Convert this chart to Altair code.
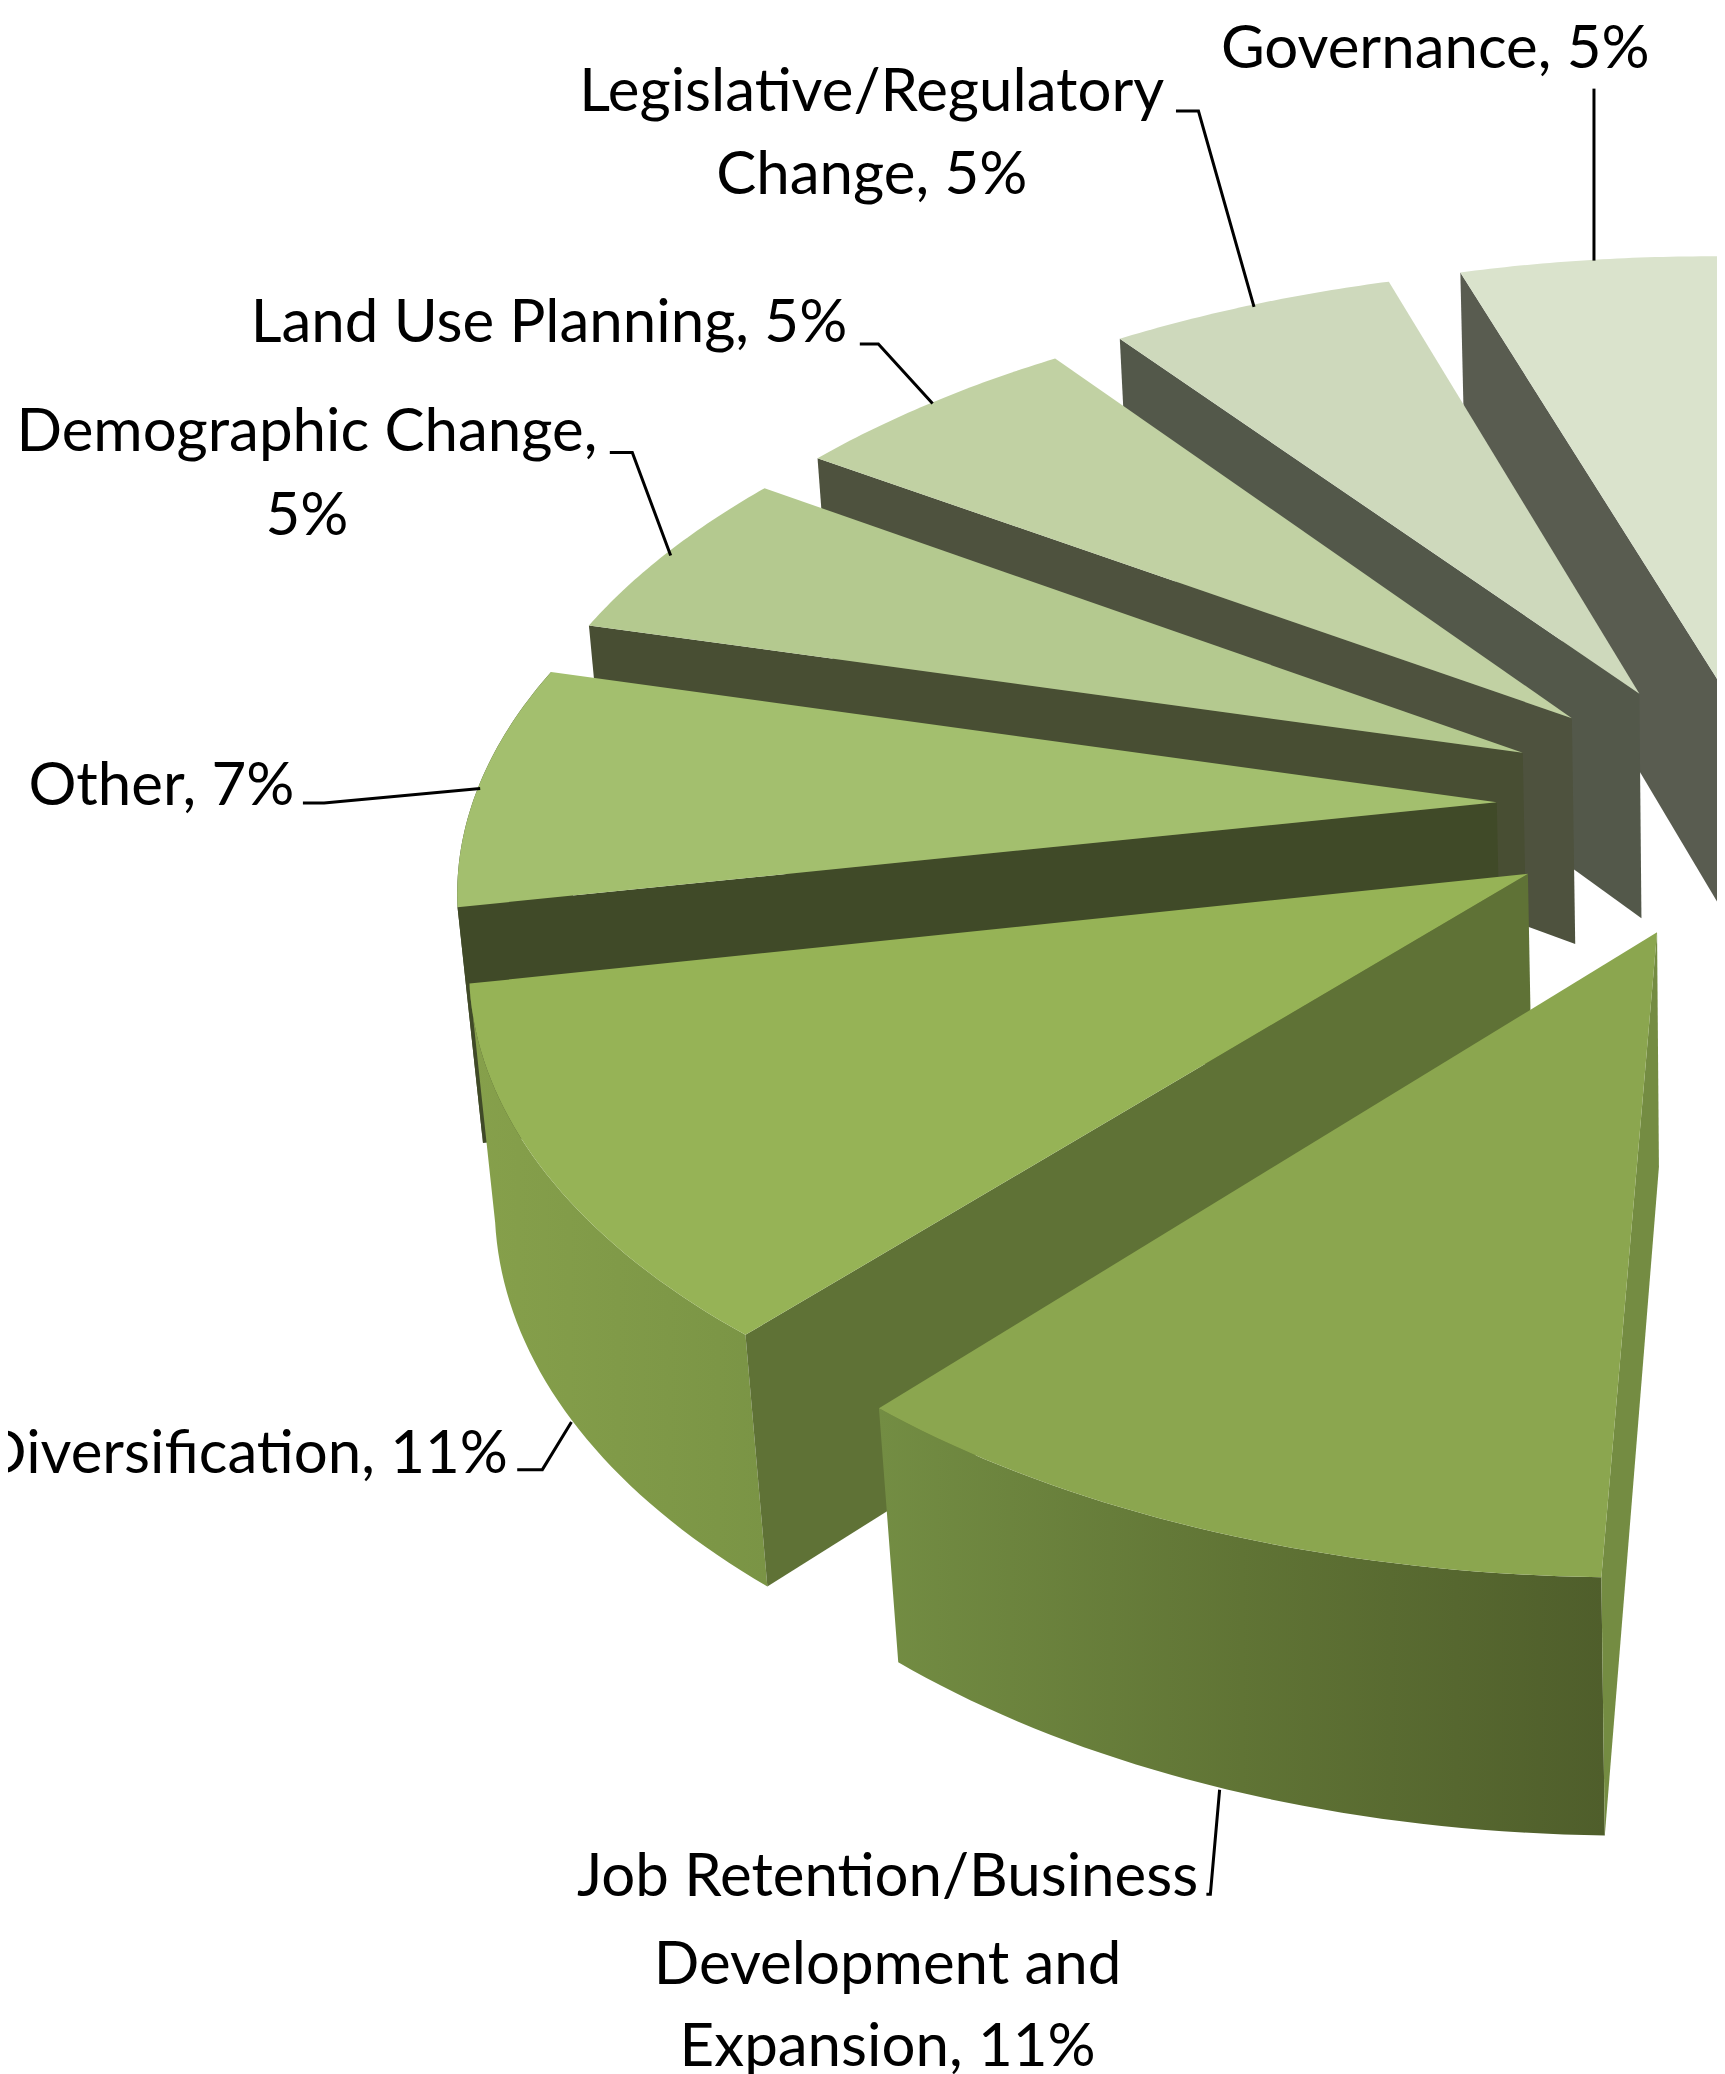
import altair as alt, numpy as np, pandas as pd

# Slices in drawing-angle order, starting at the 90-degree position
categories = ["Job Retention/Business Development and Expansion", "Diversification", "Other",
              "Demographic Change", "Land Use Planning", "Legislative/Regulatory Change", "Governance"]
shares = [10.69, 10.62, 7.31, 5.33, 5.37, 5.28, 5.45]   # percent (labels round them)
top_colors = ["#8ba64f", "#96b356", "#a3bf6e", "#b4c98f", "#c1d1a3", "#ced9bc", "#dae3cc"]
wall_colors = ["#748c42", "#5f7236", "#404a28", "#484e33", "#4e523e", "#53584a", "#595c50"]
outer_gradients = {
    0: [(0, "#738d43"), (.5, "#607435"), (1, "#4f5e2b")],
    1: [(0, "#86a04b"), (1, "#7a9445")],
    2: [(0, "#404a28"), (1, "#404a28")],
}

# 3-D pie camera
CX, CY, A, B = 1752.15, 806.5, 1010.1, 516.0
K, SH, TW, Q = 0.1392, -33.91, 18.46, -0.0045
PHI0, EXPLODE, DEPTH, PERSP = 89.94, 0.2525, 233.5, 0.0193

cum = np.concatenate([[0], np.cumsum(shares)]) * 3.6

def proj(i, f, r, z):
    s0, s1 = np.radians(PHI0 + cum[i]), np.radians(PHI0 + cum[i + 1])
    pm = (s0 + s1) / 2
    ph = s0 + (s1 - s0) * f
    U = EXPLODE * np.cos(pm) + r * np.cos(ph)
    V = EXPLODE * np.sin(pm) + r * np.sin(ph)
    W = 1 - K * V - Q * U + PERSP * z
    return CX + (A * U + SH * V) / W, CY + (B * V + TW * U + DEPTH * z) / W

X = alt.Scale(domain=[8, 1717])
Y = alt.Scale(domain=[2074, 8])
ex = alt.X("x:Q", scale=X, axis=None)
ey = alt.Y("y:Q", scale=Y, axis=None)

def poly(pts, fill):
    df = pd.DataFrame(pts, columns=["x", "y"])
    df["i"] = range(len(df))
    return alt.Chart(df).mark_line(fill=fill, strokeWidth=0, interpolate="linear-closed", clip=True).encode(
        x=ex, y=ey, order="i:Q")

def grad(c):
    return alt.Gradient(gradient="linear", x1=0, x2=1, y1=0, y2=0,
                        stops=[alt.GradientStop(color=col, offset=o) for o, col in c])

layers = []
for i in range(len(shares) - 1, -1, -1):
    fs = np.linspace(0, 1, 40)
    arc = [proj(i, f, 1, 0) for f in fs]
    arcb = [proj(i, f, 1, 1) for f in fs]
    ap, apb = proj(i, 0, 0, 0), proj(i, 0, 0, 1)
    if i in outer_gradients:
        layers.append(poly(arc + arcb[::-1], grad(outer_gradients[i])))
    layers.append(poly([ap, arc[0], arcb[0], apb], wall_colors[i]))
    layers.append(poly([ap] + arc, top_colors[i]))

S = 1.3228
label_lines = ["Governance, 5%", "Legislative/Regulatory", "Change, 5%", "Land Use Planning, 5%", "Demographic Change,", "5%",
               "Other, 7%", "Diversification, 11%", "Job Retention/Business", "Development and", "Expansion, 11%"]
label_x = [1085, 659, 659, 415, 232, 232, 122, 384, 671, 671, 671]
label_y = [38, 70, 133, 245, 327, 391, 595, 1100, 1420, 1486, 1548]
label_align = ["center"] * 7 + ["right"] + ["center"] * 3
for t, x, y, al in zip(label_lines, label_x, label_y, label_align):
    d = pd.DataFrame({"x": [x * S], "y": [y * S], "t": [t]})
    layers.append(alt.Chart(d).mark_text(font="Lato", fontSize=60, align=al, baseline="middle", color="black").encode(
        x=ex, y=ey, text="t:N"))

leaders = [[(1205, 67), (1205, 197)], [(889, 84), (906, 84), (948, 232)], [(650, 260), (664, 260), (705, 305)],
           [(461, 342), (478, 342), (507, 420)], [(229, 607), (245, 607), (363, 596)],
           [(391, 1111), (410, 1111), (432, 1075)], [(912, 1432), (915, 1432), (922, 1353)]]
for l in leaders:
    d = pd.DataFrame([(a * S, b * S) for a, b in l], columns=["x", "y"])
    d["i"] = range(len(d))
    layers.append(alt.Chart(d).mark_line(color="black", strokeWidth=3).encode(x=ex, y=ey, order="i:Q"))

chart = alt.layer(*layers).properties(width=1709, height=2066, padding=0,
                                      autosize=alt.AutoSizeParams(type="none")).configure_view(strokeWidth=0)
chart.save("out.html", embed_options={"renderer": "svg", "actions": False})
